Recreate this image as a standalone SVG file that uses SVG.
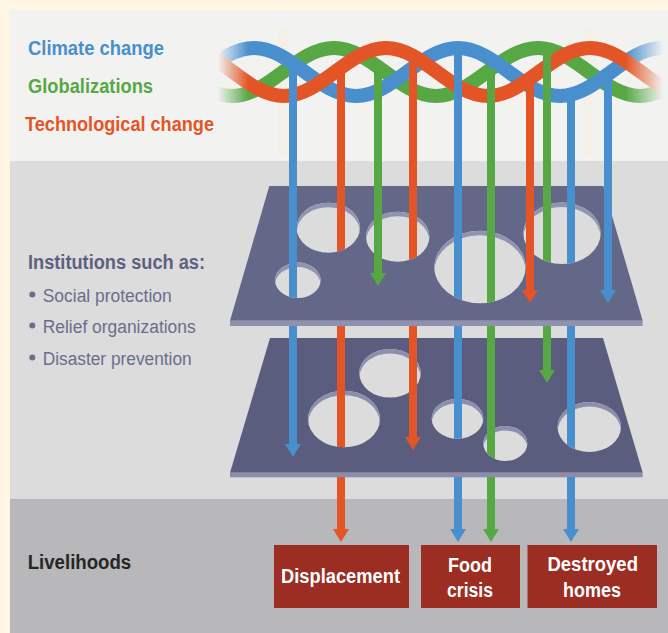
<svg xmlns="http://www.w3.org/2000/svg" xmlns:xlink="http://www.w3.org/1999/xlink" width="668" height="633" viewBox="0 0 668 633">
  <defs>
    <style>
      .bold{font-family:"Liberation Sans Narrow","Liberation Sans",Arial,sans-serif;font-weight:bold}
      .reg{font-family:"Liberation Sans Narrow","Liberation Sans",Arial,sans-serif;font-weight:normal}
      .rib{fill:none;stroke-width:14}
      .ln{fill:none;stroke-width:8;stroke-linecap:butt}
      .b{stroke:#4A8FCD}
      .g{stroke:#57A845}
      .o{stroke:#E35526}
      .box{fill:#9B2D22}
      .boxt{fill:#FFFFFF;font-size:20px;text-anchor:middle}
      .item{fill:#6A6E8C;font-size:18px}
      .rim1{fill:#9194B1}
      .rim2{fill:#8C8FAC}
    </style>

    <!-- arrowheads -->
    <marker id="ahB" markerUnits="userSpaceOnUse" markerWidth="13" markerHeight="16" viewBox="0 0 13 16" refX="1" refY="8" orient="auto">
      <path d="M0,0 L13,8 L0,16 Z" fill="#4A8FCD"/>
    </marker>
    <marker id="ahG" markerUnits="userSpaceOnUse" markerWidth="13" markerHeight="16" viewBox="0 0 13 16" refX="1" refY="8" orient="auto">
      <path d="M0,0 L13,8 L0,16 Z" fill="#57A845"/>
    </marker>
    <marker id="ahO" markerUnits="userSpaceOnUse" markerWidth="13" markerHeight="16" viewBox="0 0 13 16" refX="1" refY="8" orient="auto">
      <path d="M0,0 L13,8 L0,16 Z" fill="#E35526"/>
    </marker>

    <!-- ribbon end fade -->
    <linearGradient id="fadeGrad" gradientUnits="userSpaceOnUse" x1="215" y1="0" x2="668" y2="0">
      <stop offset="0.006" stop-color="#fff" stop-opacity="0"/>
      <stop offset="0.073" stop-color="#fff" stop-opacity="1"/>
      <stop offset="0.907" stop-color="#fff" stop-opacity="1"/>
      <stop offset="0.990" stop-color="#fff" stop-opacity="0"/>
    </linearGradient>
    <mask id="fade" maskUnits="userSpaceOnUse" x="0" y="0" width="668" height="161">
      <rect x="0" y="0" width="668" height="161" fill="url(#fadeGrad)"/>
    </mask>

    <!-- holes, upper plate -->
    <ellipse id="h1" cx="328.3" cy="227.7" rx="31.7" ry="25"/>
    <ellipse id="h2" cx="397.7" cy="236.7" rx="31.7" ry="25"/>
    <ellipse id="h3" cx="480" cy="267" rx="45.7" ry="36.2"/>
    <ellipse id="h4" cx="562" cy="233.3" rx="38.7" ry="30.7"/>
    <ellipse id="h5" cx="297.8" cy="280.3" rx="22.8" ry="17.7"/>
    <!-- holes, lower plate -->
    <ellipse id="k1" cx="390" cy="373.3" rx="30.7" ry="24.3"/>
    <ellipse id="k2" cx="344" cy="419" rx="36" ry="28.3"/>
    <ellipse id="k3" cx="457.5" cy="418.7" rx="25.8" ry="20"/>
    <ellipse id="k4" cx="505.3" cy="443.5" rx="22" ry="17.5"/>
    <ellipse id="k5" cx="589.3" cy="427" rx="31.7" ry="25"/>

    <!-- plate cut-outs -->
    <mask id="cut1" maskUnits="userSpaceOnUse" x="0" y="0" width="668" height="633">
      <rect x="0" y="0" width="668" height="633" fill="#fff"/>
      <use xlink:href="#h1" fill="#000"/><use xlink:href="#h2" fill="#000"/><use xlink:href="#h3" fill="#000"/>
      <use xlink:href="#h4" fill="#000"/><use xlink:href="#h5" fill="#000"/>
    </mask>
    <mask id="cut2" maskUnits="userSpaceOnUse" x="0" y="0" width="668" height="633">
      <rect x="0" y="0" width="668" height="633" fill="#fff"/>
      <use xlink:href="#k1" fill="#000"/><use xlink:href="#k2" fill="#000"/><use xlink:href="#k3" fill="#000"/>
      <use xlink:href="#k4" fill="#000"/><use xlink:href="#k5" fill="#000"/>
    </mask>
    <!-- inner wall of each hole: the hole minus itself shifted down -->
    <mask id="wall1" maskUnits="userSpaceOnUse" x="0" y="0" width="668" height="633">
      <rect x="0" y="0" width="668" height="633" fill="#fff"/>
      <use xlink:href="#h1" y="4.5" fill="#000"/><use xlink:href="#h2" y="4.5" fill="#000"/><use xlink:href="#h3" y="4.5" fill="#000"/>
      <use xlink:href="#h4" y="4.5" fill="#000"/><use xlink:href="#h5" y="4.5" fill="#000"/>
    </mask>
    <mask id="wall2" maskUnits="userSpaceOnUse" x="0" y="0" width="668" height="633">
      <rect x="0" y="0" width="668" height="633" fill="#fff"/>
      <use xlink:href="#k1" y="4.5" fill="#000"/><use xlink:href="#k2" y="4.5" fill="#000"/><use xlink:href="#k3" y="4.5" fill="#000"/>
      <use xlink:href="#k4" y="4.5" fill="#000"/><use xlink:href="#k5" y="4.5" fill="#000"/>
    </mask>

    <!-- a line dropping into a hole: visible above the hole centre and inside the hole -->
    <clipPath id="cH1"><rect x="0" y="0" width="668" height="227.7"/><use xlink:href="#h1"/></clipPath>
    <clipPath id="cH2"><rect x="0" y="0" width="668" height="236.7"/><use xlink:href="#h2"/></clipPath>
    <clipPath id="cH3"><rect x="0" y="0" width="668" height="267"/><use xlink:href="#h3"/></clipPath>
    <clipPath id="cH4"><rect x="0" y="0" width="668" height="233.3"/><use xlink:href="#h4"/></clipPath>
    <clipPath id="cH5"><rect x="0" y="0" width="668" height="280.3"/><use xlink:href="#h5"/></clipPath>
    <clipPath id="cK2"><rect x="0" y="0" width="668" height="419"/><use xlink:href="#k2"/></clipPath>
    <clipPath id="cK3"><rect x="0" y="0" width="668" height="418.7"/><use xlink:href="#k3"/></clipPath>
    <clipPath id="cK4"><rect x="0" y="0" width="668" height="443.5"/><use xlink:href="#k4"/></clipPath>
    <clipPath id="cK5"><rect x="0" y="0" width="668" height="427"/><use xlink:href="#k5"/></clipPath>
  </defs>

  <!-- background bands -->
  <g id="background">
    <rect x="0" y="0" width="668" height="633" fill="#FEF5E2"/>
    <rect x="10" y="10" width="658" height="151" fill="#F2F3F1"/>
    <rect x="10" y="161" width="658" height="338" fill="#DCDCDC"/>
    <rect x="10" y="499" width="658" height="134" fill="#B8B8BA"/>
    <rect x="278" y="27" width="10" height="127" fill="#F5F0E7"/>
    <rect x="584" y="28" width="8" height="126" fill="#F5F0E7"/>
  </g>

  <!-- three intertwined driver ribbons -->
  <g id="drivers" mask="url(#fade)">
    <path class="rib g" d="M130,48 C167.1,48 194.9,96 232,96 C269.1,96 296.9,48 334,48 C371.1,48 398.9,96 436,96 C473.1,96 500.9,48 538,48 C575.1,48 602.9,96 640,96 C677.1,96 704.9,48 742,48"/>
    <path class="rib b" d="M152,96 C189.1,96 216.9,48 254,48 C291.1,48 318.9,96 356,96 C393.1,96 420.9,48 458,48 C495.1,48 522.9,96 560,96 C597.1,96 624.9,48 662,48 C699.1,48 726.9,96 764,96"/>
    <path class="rib o" d="M182,48 C219.1,48 246.9,96 284,96 C321.1,96 348.9,48 386,48 C423.1,48 450.9,96 488,96 C525.1,96 552.9,48 590,48 C627.1,48 654.9,96 692,96"/>
  </g>

  <!-- lower institutional layer -->
  <g id="plate-lower">
    <polygon points="270,338 603,338 642.7,472.7 230,472.7" fill="#5A5D7D" mask="url(#cut2)"/>
    <rect x="230" y="472.7" width="412.7" height="4.6" fill="#8B8DAA"/>
    <g class="rim2" mask="url(#wall2)">
      <use xlink:href="#k1"/><use xlink:href="#k2"/><use xlink:href="#k3"/><use xlink:href="#k4"/><use xlink:href="#k5"/>
    </g>
  </g>

  <!-- upper institutional layer -->
  <g id="plate-upper">
    <polygon points="269.3,186 603.3,186 642.7,320.7 230,320.7" fill="#646888" mask="url(#cut1)"/>
    <rect x="230" y="320.7" width="412.7" height="5.3" fill="#8F92AF"/>
    <g class="rim1" mask="url(#wall1)">
      <use xlink:href="#h1"/><use xlink:href="#h2"/><use xlink:href="#h3"/><use xlink:href="#h4"/><use xlink:href="#h5"/>
    </g>
  </g>

  <!-- impact arrows falling through the layers -->
  <g id="connectors">
    <path class="ln b" d="M293,63 V298.5" clip-path="url(#cH5)"/>
    <path class="ln b" d="M293,326 V445" marker-end="url(#ahB)"/>

    <path class="ln o" d="M341,68 V253" clip-path="url(#cH1)"/>
    <path class="ln o" d="M341,326 V448" clip-path="url(#cK2)"/>
    <path class="ln o" d="M341,477 V530" marker-end="url(#ahO)"/>

    <path class="ln g" d="M378,67 V274" marker-end="url(#ahG)"/>

    <path class="ln o" d="M413,56 V262" clip-path="url(#cH2)"/>
    <path class="ln o" d="M413,326 V438" marker-end="url(#ahO)"/>

    <path class="ln b" d="M458,48 V304" clip-path="url(#cH3)"/>
    <path class="ln b" d="M458,326 V439" clip-path="url(#cK3)"/>
    <path class="ln b" d="M458,477 V530" marker-end="url(#ahB)"/>

    <path class="ln g" d="M491,69 V304" clip-path="url(#cH3)"/>
    <path class="ln g" d="M491,326 V462" clip-path="url(#cK4)"/>
    <path class="ln g" d="M491,477 V530" marker-end="url(#ahG)"/>

    <path class="ln o" d="M530,79 V291" marker-end="url(#ahO)"/>

    <path class="ln g" d="M547,49 V265" clip-path="url(#cH4)"/>
    <path class="ln g" d="M547,326 V371" marker-end="url(#ahG)"/>

    <path class="ln b" d="M571,94 V265" clip-path="url(#cH4)"/>
    <path class="ln b" d="M571,326 V452" clip-path="url(#cK5)"/>
    <path class="ln b" d="M571,477 V530" marker-end="url(#ahB)"/>

    <path class="ln b" d="M608,74 V291" marker-end="url(#ahB)"/>
  </g>

  <!-- driver legend -->
  <g id="label-climate"><text class="bold" x="28" y="54.5" font-size="20" fill="#4A8FCD" textLength="136" lengthAdjust="spacingAndGlyphs">Climate change</text></g>
  <g id="label-globalization"><text class="bold" x="28" y="92.5" font-size="20" fill="#57A845" textLength="125" lengthAdjust="spacingAndGlyphs">Globalizations</text></g>
  <g id="label-technology"><text class="bold" x="25" y="130.5" font-size="20" fill="#E35526" textLength="189" lengthAdjust="spacingAndGlyphs">Technological change</text></g>

  <!-- institutions legend -->
  <g id="label-institutions">
    <text class="bold" x="28" y="269.3" font-size="20" fill="#5D6180" textLength="177" lengthAdjust="spacingAndGlyphs">Institutions such as:</text>
    <circle cx="32.3" cy="294.5" r="3" fill="#6A6E8C"/>
    <circle cx="32.3" cy="325.5" r="3" fill="#6A6E8C"/>
    <circle cx="32.3" cy="357.5" r="3" fill="#6A6E8C"/>
    <text class="reg item" x="42.7" y="301.7" textLength="129" lengthAdjust="spacingAndGlyphs">Social protection</text>
    <text class="reg item" x="42.7" y="332.8" textLength="153" lengthAdjust="spacingAndGlyphs">Relief organizations</text>
    <text class="reg item" x="42.7" y="364.8" textLength="149" lengthAdjust="spacingAndGlyphs">Disaster prevention</text>
  </g>

  <!-- livelihoods row -->
  <g id="label-livelihoods"><text class="bold" x="27.7" y="569" font-size="20" fill="#262626" textLength="103.5" lengthAdjust="spacingAndGlyphs">Livelihoods</text></g>

  <g id="box-displacement">
    <rect class="box" x="274" y="545" width="135" height="63"/>
    <text class="bold boxt" x="340.5" y="582.7" textLength="119" lengthAdjust="spacingAndGlyphs">Displacement</text>
  </g>
  <g id="box-food">
    <rect class="box" x="421" y="545" width="99" height="63"/>
    <text class="bold boxt" x="470" y="571.7" textLength="44" lengthAdjust="spacingAndGlyphs">Food</text>
    <text class="bold boxt" x="470" y="597.3" textLength="46" lengthAdjust="spacingAndGlyphs">crisis</text>
  </g>
  <g id="box-homes">
    <rect class="box" x="527.5" y="545" width="129.5" height="63"/>
    <text class="bold boxt" x="592.7" y="571" textLength="90.5" lengthAdjust="spacingAndGlyphs">Destroyed</text>
    <text class="bold boxt" x="592" y="596.7" textLength="58" lengthAdjust="spacingAndGlyphs">homes</text>
  </g>
</svg>
